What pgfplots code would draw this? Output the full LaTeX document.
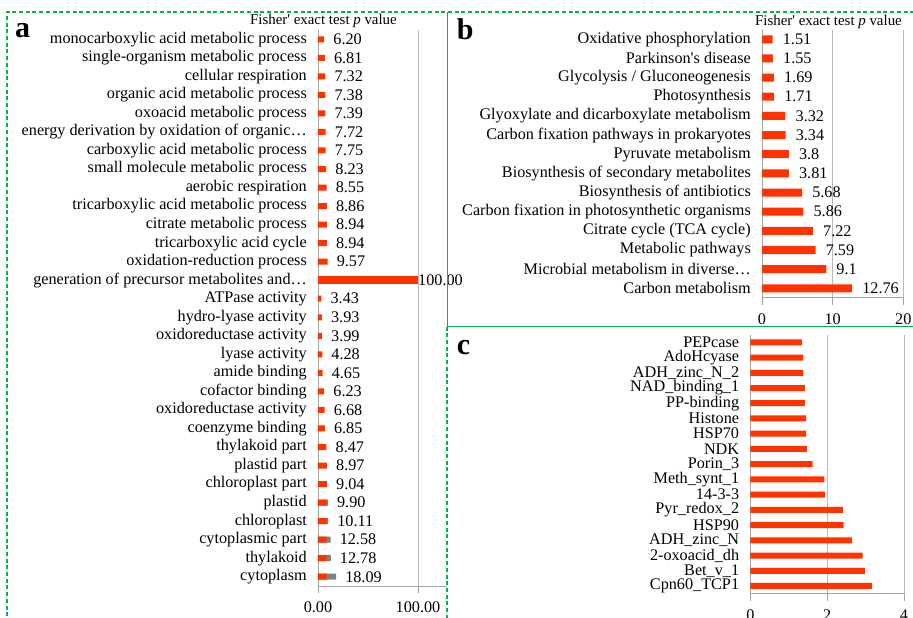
\documentclass[border=0pt]{standalone}
\usepackage{fontspec}
\setmainfont{Liberation Serif}
\usepackage{pgfplots}
\pgfplotsset{compat=1.18}
\definecolor{barred}{RGB}{255,51,0}
\definecolor{bargray}{RGB}{128,128,128}
\definecolor{axgray}{RGB}{165,165,165}
\definecolor{gridgray}{RGB}{185,185,185}
\definecolor{pgreen}{RGB}{0,180,80}
\newcommand\lf{\fontsize{16.2}{18}\selectfont}
\pgfplotsset{
  panel/.style={
    scale only axis, xbar, bar shift=0pt,
    y dir=reverse, enlargelimits=false, clip=false,
    axis x line*=bottom, axis y line*=left,
    axis line style={draw=axgray, line width=0.9pt},
    tick align=outside,
    major tick length=7pt, minor tick length=6pt,
    ytick style={draw=none},
    minor tick style={draw=axgray, line width=0.9pt},
    xtick style={draw=axgray, line width=0.9pt},
    xmajorgrids, grid style={draw=gridgray, line width=0.9pt},
    tick label style={font=\lf},
    /pgf/number format/assume math mode=true,
    yticklabel style={anchor=east, inner sep=0pt, xshift=-4pt},
    xticklabel style={anchor=north, inner sep=0pt, yshift=-9pt},
  },
  laba/.style={point meta=x,
    nodes near coords={\pgfmathprintnumber[fixed,fixed zerofill,precision=2]{\pgfplotspointmeta}},
    nodes near coords style={font=\lf, anchor=west, inner sep=0pt, xshift=#1}},
  labb/.style={point meta=x, nodes near coords,
    nodes near coords style={font=\lf, anchor=west, inner sep=0pt, xshift=#1}},
}
\begin{document}
\begin{tikzpicture}[x=1pt,y=1pt]
\useasboundingbox (0,0) rectangle (913,618);
% ---------------- panel a
\begin{axis}[panel, at={(318pt,32pt)}, anchor=south west,
  width=129pt, height=556pt, xmin=0, xmax=129, ymin=0.5, ymax=30.5,
  xtick={0,100}, xticklabels={0.00,100.00},
  ytick={1,...,30}, minor ytick={0.5,1.5,...,30.5},
  yticklabels={monocarboxylic acid metabolic process, single-organism metabolic process, cellular respiration, organic acid metabolic process, oxoacid metabolic process, energy derivation by oxidation of organic…, carboxylic acid metabolic process, small molecule metabolic process, aerobic respiration, tricarboxylic acid metabolic process, citrate metabolic process, tricarboxylic acid cycle, oxidation-reduction process, generation of precursor metabolites and…, ATPase activity, hydro-lyase activity, oxidoreductase activity, lyase activity, amide binding, cofactor binding, oxidoreductase activity, coenzyme binding, thylakoid part, plastid part, chloroplast part, plastid, chloroplast, cytoplasmic part, thylakoid, cytoplasm},
]
\addplot[fill=barred, draw=none, bar width=6pt, laba=9pt] coordinates {
(6.20,1) (6.81,2) (7.32,3) (7.38,4) (7.39,5) (7.72,6) (7.75,7) (8.23,8) (8.55,9)
(8.86,10) (8.94,11) (8.94,12) (9.57,13)
(3.43,15) (3.93,16) (3.99,17) (4.28,18) (4.65,19) (6.23,20) (6.68,21) (6.85,22)
(8.47,23) (8.97,24) (9.04,25)};
\addplot[fill=bargray, draw=none, bar width=6pt, laba=9pt] coordinates {
(9.90,26) (10.11,27) (12.58,28) (12.78,29) (18.09,30)};
\addplot[fill=barred, draw=none, bar width=6pt] coordinates {
(8.6,26) (8.6,27) (8.6,28) (8.6,29) (8.6,30)};
\addplot[fill=barred, draw=none, bar width=8pt, laba=0pt] coordinates {(100,14)};
\end{axis}
% ---------------- panel b
\begin{axis}[panel, at={(762pt,320.1pt)}, anchor=south west,
  width=141.3pt, height=268.2pt, xmin=0, xmax=20, ymin=0.5, ymax=14.5,
  xtick={0,10,20},
  ytick={1,...,14}, minor ytick={0.5,1.5,...,14.5},
  yticklabels={Oxidative phosphorylation, Parkinson\textquotesingle s disease, Glycolysis / Gluconeogenesis, Photosynthesis, Glyoxylate and dicarboxylate metabolism, Carbon fixation pathways in prokaryotes, Pyruvate metabolism, Biosynthesis of secondary metabolites, Biosynthesis of antibiotics, Carbon fixation in photosynthetic organisms, Citrate cycle (TCA cycle), Metabolic pathways, Microbial metabolism in diverse…, Carbon metabolism},
]
\addplot[fill=barred, draw=none, bar width=8pt, labb=10pt] coordinates {
(1.51,1) (1.55,2) (1.69,3) (1.71,4) (3.32,5) (3.34,6) (3.8,7) (3.81,8)
(5.68,9) (5.86,10) (7.22,11) (7.59,12) (9.1,13) (12.76,14)};
\end{axis}
% ---------------- panel c
\begin{axis}[panel, at={(750.3pt,24.4pt)}, anchor=south west,
  width=153.7pt, height=258.9pt, xmin=0, xmax=4, ymin=0.5, ymax=17.5,
  xtick={0,2,4},
  ytick={1,...,17}, minor ytick={0.5,1.5,...,17.5},
  yticklabels={PEPcase, AdoHcyase, ADH\_zinc\_N\_2, NAD\_binding\_1, PP-binding, Histone, HSP70, NDK, Porin\_3, Meth\_synt\_1, 14-3-3, Pyr\_redox\_2, HSP90, ADH\_zinc\_N, 2-oxoacid\_dh, Bet\_v\_1, Cpn60\_TCP1},
]
\addplot[fill=barred, draw=none, bar width=6pt] coordinates {
(1.34,1) (1.38,2) (1.38,3) (1.42,4) (1.42,5) (1.45,6) (1.45,7) (1.47,8)
(1.62,9) (1.93,10) (1.95,11) (2.41,12) (2.43,13) (2.65,14) (2.92,15) (2.99,16) (3.17,17)};
\end{axis}
% ---------------- titles, letters, frames
\node[anchor=east, font=\fontsize{14.9}{17}\selectfont, inner sep=0pt] at (397,597) {Fisher\textquotesingle{} exact test \textit{p} value};
\node[anchor=east, font=\fontsize{14.9}{17}\selectfont, inner sep=0pt] at (902,596) {Fisher\textquotesingle{} exact test \textit{p} value};
\node[anchor=base west, font=\fontsize{30}{30}\selectfont\bfseries, inner sep=0pt] at (15,580.7) {a};
\node[anchor=base west, font=\fontsize{30}{30}\selectfont\bfseries, inner sep=0pt] at (456.7,578.7) {b};
\node[anchor=base west, font=\fontsize{30}{30}\selectfont\bfseries, inner sep=0pt] at (456.7,263) {c};
\begin{scope}[draw=pgreen, line width=2pt, dash pattern=on 4pt off 2.7pt]
\draw (7.3,-5) -- (7.3,606.3) -- (918,606.3);
\draw (447.3,291.3) -- (447.3,-5);
\end{scope}
\draw[draw=pgreen, line width=1.5pt] (447.3,606.3) -- (447.3,291.3) -- (918,291.3);
\end{tikzpicture}
\end{document}
